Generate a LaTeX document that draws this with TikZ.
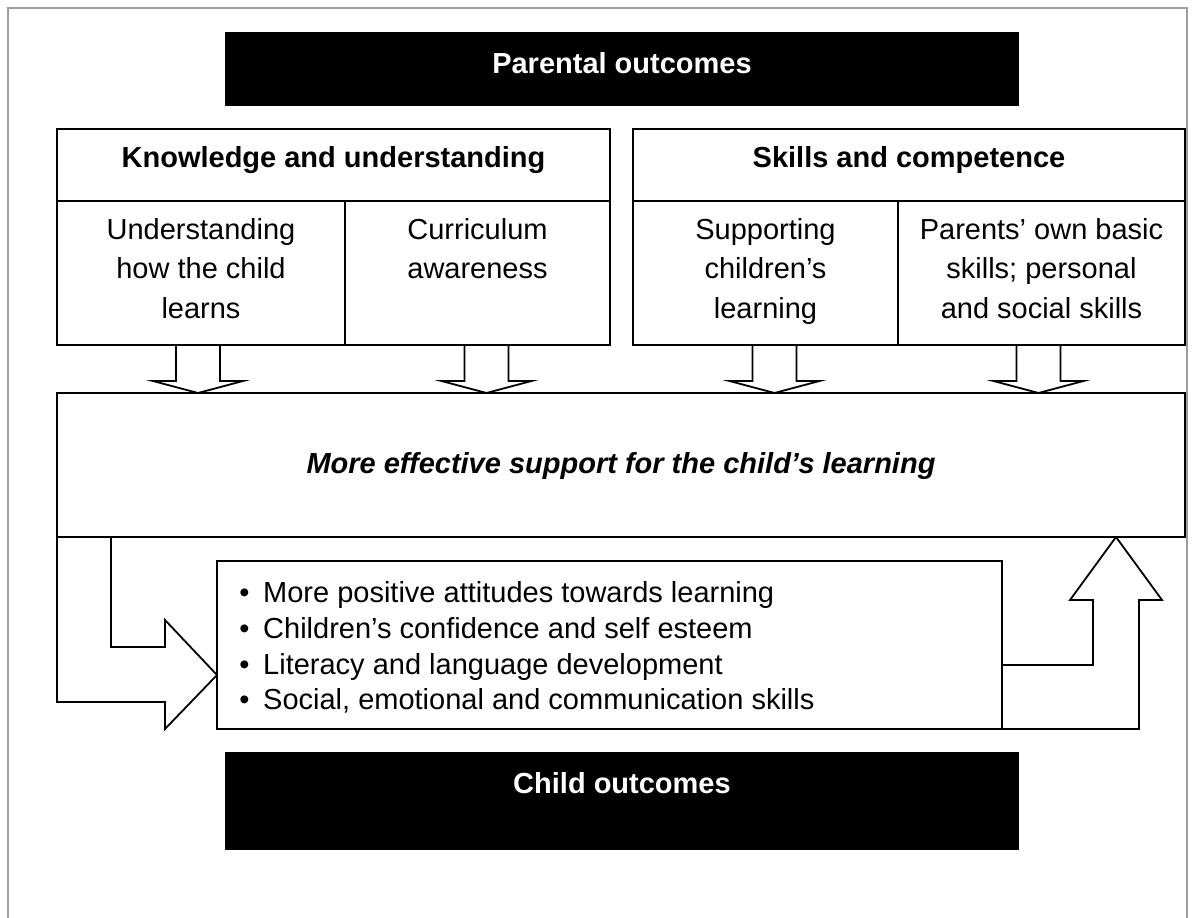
\documentclass[tikz,border=0pt]{standalone}
\usepackage{fontspec}
\setmainfont{Liberation Sans}
\begin{document}
\begin{tikzpicture}[x=1pt,y=-1pt]
\tikzset{
  box/.style={draw=black, line width=1.8pt, fill=white, rectangle, inner sep=0pt, outer sep=0pt, anchor=north west},
  blackbox/.style={fill=black, draw=none, rectangle, inner sep=0pt, outer sep=0pt, anchor=north west},
  txt/.style={font=\fontsize{29}{35}\selectfont, inner sep=0pt, anchor=base},
  btxt/.style={font=\fontsize{29}{35}\selectfont\bfseries, inner sep=0pt, anchor=base},
  wtxt/.style={font=\fontsize{29}{35}\selectfont\bfseries, text=white, inner sep=0pt, anchor=base},
  bultxt/.style={font=\fontsize{29}{35}\selectfont, inner sep=0pt, anchor=base west},
  blockarrow/.style={draw=black, line width=1.8pt, fill=white, line join=miter},
  framestyle/.style={draw=black!38, line width=1.5pt}
}
\useasboundingbox (0,0) rectangle (1192,918);
\fill[white] (0,0) rectangle (1192,918);
% outer frame (open at bottom)
\draw[framestyle] (8,918) -- (8,8) -- (1187,8) -- (1187,918);

% black title boxes
\node[blackbox, minimum width=794pt, minimum height=74pt] (parent) at (225,32) {};
\node[blackbox, minimum width=794pt, minimum height=98pt] (child) at (225,752) {};

% block arrows (drawn first, boxes on top)
\foreach \cx/\nm in {198/a1, 486.5/a2, 774.5/a3, 1038.5/a4}{
  \draw[blockarrow] (\cx-22,345) -- (\cx-22,381) -- (\cx-45,381) -- (\cx,393) -- (\cx+45,381) -- (\cx+22,381) -- (\cx+22,345) -- cycle;
}
% left bent arrow
\draw[blockarrow] (57,537) -- (57,702) -- (165,702) -- (165,729) -- (217,675) -- (165,620) -- (165,647) -- (111,647) -- (111,537) -- cycle;
% right bent arrow
\draw[blockarrow] (1002,665) -- (1093,665) -- (1093,600) -- (1070,600) -- (1116,537) -- (1162,600) -- (1139,600) -- (1139,729) -- (1002,729) -- cycle;

% knowledge box
\node[box, minimum width=553pt, minimum height=72pt] (khead) at (57,129) {};
\node[box, minimum width=288pt, minimum height=144pt] (k1) at (57,201) {};
\node[box, minimum width=265pt, minimum height=144pt] (k2) at (345,201) {};
% skills box
\node[box, minimum width=552pt, minimum height=72pt] (shead) at (633,129) {};
\node[box, minimum width=265pt, minimum height=144pt] (s1) at (633,201) {};
\node[box, minimum width=287pt, minimum height=144pt] (s2) at (898,201) {};
% middle box
\node[box, minimum width=1128pt, minimum height=144pt] (mid) at (57,393) {};
% bullets box
\node[box, minimum width=785pt, minimum height=168pt] (bul) at (217,561) {};

% texts
\node[wtxt] (tparent) at (622,73) {Parental outcomes};
\node[wtxt] (tchild) at (622,793) {Child outcomes};
\node[btxt] (tkhead) at (333.5,167) {Knowledge and understanding};
\node[btxt] (tshead) at (909,167) {Skills and competence};

\node[txt] (tk1a) at (201,239) {Understanding};
\node[txt] (tk1b) at (201,278.5) {how the child};
\node[txt] (tk1c) at (201,318) {learns};
\node[txt] (tk2a) at (477.5,239) {Curriculum};
\node[txt] (tk2b) at (477.5,278.5) {awareness};
\node[txt] (ts1a) at (765.5,239) {Supporting};
\node[txt] (ts1b) at (765.5,278.5) {children’s};
\node[txt] (ts1c) at (765.5,318) {learning};
\node[txt] (ts2a) at (1041.5,239) {Parents’ own basic};
\node[txt] (ts2b) at (1041.5,278.5) {skills; personal};
\node[txt] (ts2c) at (1041.5,318) {and social skills};

\node[txt, font=\fontsize{29}{35}\selectfont\bfseries\itshape] (tmid) at (621,473) {More effective support for the child’s learning};

\foreach \yy/\tt/\nm in {602/More positive attitudes towards learning/b1, 638/Children’s confidence and self esteem/b2, 674/Literacy and language development/b3, 709/{Social, emotional and communication skills}/b4}{
  \node[txt] (\nm dot) at (244.5,\yy) {\textbullet};
  \node[bultxt] (\nm) at (263,\yy) {\tt};
}
\end{tikzpicture}
\end{document}
